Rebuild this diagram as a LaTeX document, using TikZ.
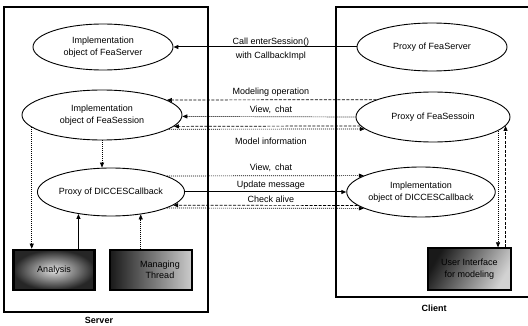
\documentclass[tikz,border=0pt]{standalone}
\usepackage{fontspec}
\setmainfont{Liberation Sans}
\usetikzlibrary{shapes.geometric,arrows.meta,calc}

\begin{document}
\begin{tikzpicture}[x=1pt,y=-1pt,
  every node/.style={font=\fontsize{9}{11.5}\selectfont},
  ell/.style={ellipse, draw, line width=0.9pt, fill=white, inner sep=0pt, align=center},
  frame/.style={draw, line width=1.1pt},
  con/.style={line width=0.7pt, -{Triangle[length=5pt,width=4pt]}},
  solidcon/.style={con, line width=1pt},
  dsh/.style={con, dash pattern=on 3pt off 1.5pt},
  dtt/.style={con, dash pattern=on 1pt off 1pt},
  lbl/.style={inner sep=0pt},
  darkbox/.style={draw, align=center, inner sep=0pt},
  ]
\useasboundingbox (0,0) rectangle (528,326);

% the two hosts
\draw[frame] (4,7) rectangle (208,312);
\draw[frame] (530,7) -- (336,7) -- (336,297) -- (530,297);
\node[font=\fontsize{9}{11}\selectfont\bfseries] (srv) at (99,320) {Server};
\node[font=\fontsize{9}{11}\selectfont\bfseries] (cli) at (434,308) {Client};

% server side objects
\node[ell, minimum width=140pt, minimum height=46pt] (E1) at (103,47) {Implementation\\object of FeaServer};
\node[ell, minimum width=160pt, minimum height=50pt] (E2) at (102,115) {Implementation\\object of FeaSession};
\node[ell, minimum width=132pt, minimum height=48pt] (E3) at (111,192) {Proxy of DICCESCallback};
\node[darkbox, line width=2.6pt, inner color=gray!22, outer color=black!85,
      minimum width=81pt, minimum height=40pt] (An) at (54,270) {Analysis};
\node[darkbox, line width=1.2pt, left color=black!90, right color=gray!40,
      minimum width=82pt, minimum height=40pt,
      label={[xshift=9pt,align=center,font=\fontsize{9}{11}\selectfont]center:Managing\\Thread}] (MT) at (151,270) {};

% client side objects
\node[ell, minimum width=150pt, minimum height=48pt] (E4) at (432,47) {Proxy of FeaServer};
\node[ell, minimum width=154pt, minimum height=50pt] (E5) at (433,117) {Proxy of FeaSessoin};
\node[ell, minimum width=128pt, minimum height=50pt] (E6) at (421,192) {Implementation\\object of DICCESCallback};
\node[darkbox, line width=1.2pt, left color=black!90, right color=gray!35, shading angle=60,
      minimum width=83pt, minimum height=42pt] (UI) at (469.5,269) {User Interface\\for modeling};

% remote calls between the hosts
\draw[solidcon] (E4.west) -- (E1.east);
\node[lbl] (l1) at (271,42) {Call enterSession()};
\node[lbl] (l2) at (271,56) {with CallbackImpl};

\draw[dsh] (E5.163) -- (E2.13);
\node[lbl] (l3) at (271,92) {Modeling operation};
\draw[dtt] (E5.west) -- (E2.-1);
\node[lbl] (l4) at (271,110) {View,\, chat};
\draw[dsh] (E5.187) -- (E2.-9);
\draw[dtt] (E2.-12) -- (E5.190);
\node[lbl] (l5) at (271,141) {Model information};

\draw[dtt] (E3.16) -- (E6.164);
\node[lbl] (l6) at (271,168) {View,\, chat};
\draw[solidcon] (E3.east) -- (E6.west);
\node[lbl] (l7) at (271,185) {Update message};
\draw[dsh] (E6.192) -- (E3.-12);
\draw[dtt] (E3.-16) -- (E6.196);
\node[lbl] (l8) at (271,199) {Check alive};

% local calls on the server
\draw[dtt] (E2.south) -- (E2.south |- E3.north);
\draw[dtt] (E2.190) -- (E2.190 |- An.north);
\draw[solidcon] (E3.214 |- An.north) -- (E3.214);
\draw[dtt] (E3.-37 |- MT.north) -- (E3.-37);

% local calls on the client
\draw[dtt] (E5.-12) -- (E5.-12 |- UI.north);
\draw[dsh] (E5.-7 |- UI.north) -- (E5.-7);
\end{tikzpicture}
\end{document}
